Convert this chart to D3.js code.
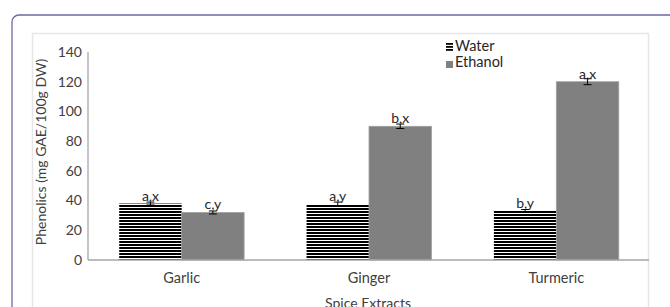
<!DOCTYPE html>
<html>
<head>
<meta charset="utf-8">
<script src="https://cdn.jsdelivr.net/npm/d3@7"></script>
<style>
  body { margin: 0; background: #fff; }
  svg text { font-family: Lato, "Liberation Sans", sans-serif; }
</style>
</head>
<body>
<svg id="chart" width="670" height="307"></svg>
<script>
// data
const categories = ["Garlic", "Ginger", "Turmeric"];
const series = ["Water", "Ethanol"];
const waterValues = [38, 37.5, 33];
const ethanolValues = [32, 90, 120];
const waterErrors = [1, 1.5, 1];
const ethanolErrors = [1, 1.5, 2];
const waterLabels = ["a,x", "a,y", "b,y"];
const ethanolLabels = ["c,y", "b,x", "a,x"];
const yTicks = [0, 20, 40, 60, 80, 100, 120, 140];

const svg = d3.select("#chart");

// outer frame (purple, rounded) and inner chart box
svg.append("rect")
    .attr("x", 12).attr("y", 15)
    .attr("width", 700).attr("height", 320)
    .attr("rx", 7)
    .attr("fill", "none")
    .attr("stroke", "#6a6aa8")
    .attr("stroke-width", 1.3);

svg.append("rect")
    .attr("x", 32.5).attr("y", 33.5)
    .attr("width", 616).attr("height", 300)
    .attr("fill", "#fff")
    .attr("stroke", "#e6e6e6")
    .attr("stroke-width", 1.5);

// horizontal stripe pattern for water
const defs = svg.append("defs");
const pat = defs.append("pattern")
    .attr("id", "stripes")
    .attr("patternUnits", "userSpaceOnUse")
    .attr("width", 6).attr("height", 3);
pat.append("rect").attr("width", 6).attr("height", 3).attr("fill", "#fff");
pat.append("rect").attr("y", 1).attr("width", 6).attr("height", 2).attr("fill", "#000");

const x = d3.scaleBand().domain(categories).range([88, 650]).padding(0);
const bw = x.bandwidth();
const xs = d3.scaleBand().domain(series).range([bw / 6, bw * 5 / 6]).padding(0);
const y = d3.scaleLinear().domain([0, 140]).range([260, 52]);

const rows = categories.map((c, i) => ({
    cat: c,
    vals: [
        { s: "Water", v: waterValues[i], e: waterErrors[i], lab: waterLabels[i] },
        { s: "Ethanol", v: ethanolValues[i], e: ethanolErrors[i], lab: ethanolLabels[i] }
    ]
}));

const groups = svg.selectAll(".grp")
    .data(rows)
    .enter().append("g")
    .attr("transform", d => `translate(${x(d.cat)},0)`);

groups.selectAll("rect.bar")
    .data(d => d.vals)
    .enter().append("rect")
    .attr("class", "bar")
    .attr("x", d => xs(d.s))
    .attr("y", d => y(d.v))
    .attr("width", xs.bandwidth())
    .attr("height", d => y(0) - y(d.v))
    .attr("fill", d => d.s === "Water" ? "url(#stripes)" : "#808080")
    .attr("stroke", d => d.s === "Water" ? "none" : "#a0a0a0")
    .attr("stroke-width", 0.8);

// error bars
const errs = groups.selectAll("g.err")
    .data(d => d.vals)
    .enter().append("g")
    .attr("class", "err")
    .attr("stroke", "#000")
    .attr("stroke-width", 1);
errs.append("line")
    .attr("x1", d => xs(d.s) + xs.bandwidth() / 2)
    .attr("x2", d => xs(d.s) + xs.bandwidth() / 2)
    .attr("y1", d => y(d.v + d.e))
    .attr("y2", d => y(d.v - d.e));
errs.append("line")
    .attr("x1", d => xs(d.s) + xs.bandwidth() / 2 - 4)
    .attr("x2", d => xs(d.s) + xs.bandwidth() / 2 + 4)
    .attr("y1", d => y(d.v - d.e))
    .attr("y2", d => y(d.v - d.e));
errs.append("line")
    .attr("x1", d => xs(d.s) + xs.bandwidth() / 2 - 4)
    .attr("x2", d => xs(d.s) + xs.bandwidth() / 2 + 4)
    .attr("y1", d => y(d.v + d.e))
    .attr("y2", d => y(d.v + d.e));

// significance letters
groups.selectAll("text.lab")
    .data(d => d.vals)
    .enter().append("text")
    .attr("class", "lab")
    .attr("x", d => xs(d.s) + xs.bandwidth() / 2)
    .attr("y", d => y(d.v) - 3)
    .attr("text-anchor", "middle")
    .attr("font-size", 14)
    .attr("fill", "#262626")
    .text(d => d.lab);

// axes
svg.append("line")
    .attr("x1", 88).attr("x2", 88)
    .attr("y1", y(140)).attr("y2", y(0))
    .attr("stroke", "#a6a6a6").attr("stroke-width", 1.3);
svg.append("line")
    .attr("x1", 88).attr("x2", 649)
    .attr("y1", y(0)).attr("y2", y(0))
    .attr("stroke", "#a6a6a6").attr("stroke-width", 1.3);

svg.selectAll(".ytick")
    .data(yTicks)
    .enter().append("text")
    .attr("x", 82)
    .attr("y", d => y(d))
    .attr("dy", "0.35em")
    .attr("text-anchor", "end")
    .attr("font-size", 14)
    .attr("fill", "#404040")
    .text(d => d);

svg.selectAll(".xtick")
    .data(categories)
    .enter().append("text")
    .attr("x", d => x(d) + bw / 2)
    .attr("y", 283)
    .attr("text-anchor", "middle")
    .attr("font-size", 14.5)
    .attr("fill", "#404040")
    .text(d => d);

svg.append("text")
    .attr("x", 368).attr("y", 308)
    .attr("text-anchor", "middle")
    .attr("font-size", 14)
    .attr("fill", "#404040")
    .text("Spice Extracts");

svg.append("text")
    .attr("transform", "translate(46,152) rotate(-90)")
    .attr("text-anchor", "middle")
    .attr("font-size", 14)
    .attr("fill", "#404040")
    .text("Phenolics (mg GAE/100g DW)");

// legend
const legend = svg.append("g").attr("transform", "translate(446,40)");
series.forEach((s, i) => {
    const ly = i * 16;
    if (s === "Water") {
        [0, 3, 6].forEach(o => legend.append("rect")
            .attr("x", 0).attr("y", ly + 3 + o)
            .attr("width", 7).attr("height", 1.8)
            .attr("fill", "#000"));
    } else {
        legend.append("rect")
            .attr("x", 0).attr("y", ly + 5)
            .attr("width", 7).attr("height", 7)
            .attr("fill", "#808080");
    }
    legend.append("text")
        .attr("x", 9).attr("y", ly + 11)
        .attr("font-size", 14.5)
        .attr("fill", "#262626")
        .text(s);
});
</script>
</body>
</html>
